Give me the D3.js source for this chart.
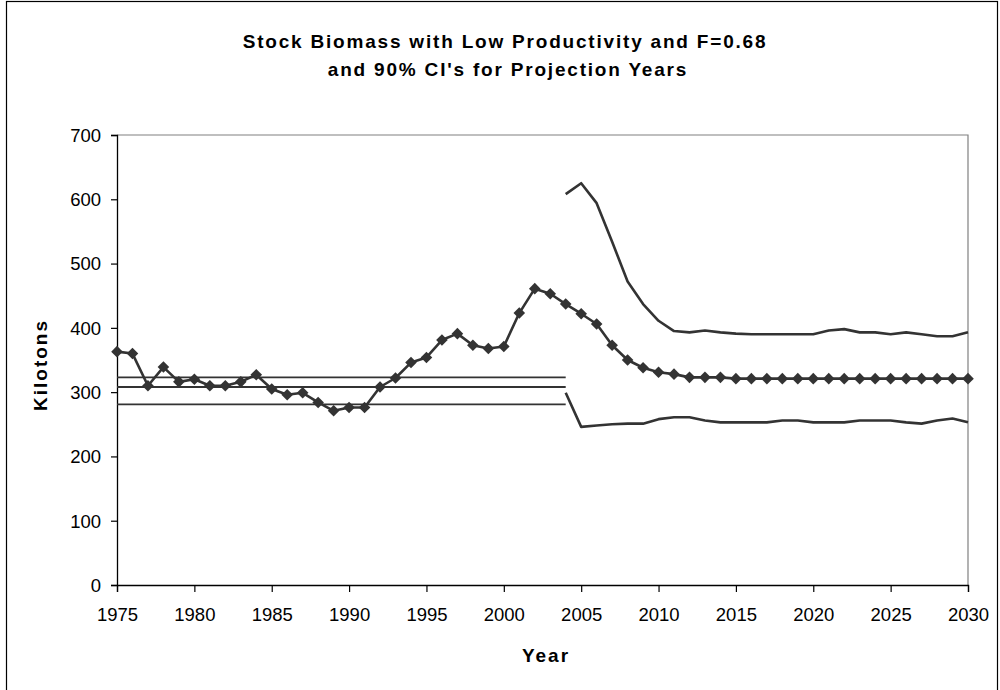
<!DOCTYPE html>
<html>
<head>
<meta charset="utf-8">
<script src="https://cdn.jsdelivr.net/npm/d3@7"></script>
<style>
  html, body { margin: 0; padding: 0; background: #fff; }
  svg { display: block; font-family: Arial, "Liberation Sans", sans-serif; }
</style>
</head>
<body>
<svg id="chart" width="1000" height="690"></svg>
<script>
// Stock biomass, 1975-2030 (projection from 2004)
const years = d3.range(1975, 2031);
const biomass = [
  363, 360, 310, 339, 316, 320, 310, 310, 316, 327,
  305, 296, 299, 284, 271, 276, 276, 308, 322, 346,
  354, 381, 391, 373, 368, 371, 423, 461, 453, 437,
  422, 406, 373, 350, 338, 331, 328, 323, 323, 323,
  321, 321, 321, 321, 321, 321, 321, 321, 321, 321,
  321, 321, 321, 321, 321, 321
];
// 90% confidence bounds for projection years
const ciYears = d3.range(2004, 2031);
const upperCI = [608, 625, 594, 534, 472, 437, 411, 395, 393, 396,
                 393, 391, 390, 390, 390, 390, 390, 396, 398, 393,
                 393, 390, 393, 390, 387, 387, 393];
const lowerCI = [299, 246, 248, 250, 251, 251, 258, 261, 261, 256,
                 253, 253, 253, 253, 256, 256, 253, 253, 253, 256,
                 256, 256, 253, 251, 256, 259, 253];
// Horizontal reference levels over the historical period
const refYears = [1975, 2004];
const refLevels = [323, 308, 281];

const xTicks = d3.range(1975, 2031, 5);
const yTicks = d3.range(0, 701, 100);

const svg = d3.select("#chart");
const ink = "#333333";

// outer frame
svg.append("rect")
  .attr("x", 6.5).attr("y", 1.5).attr("width", 991).attr("height", 700)
  .attr("fill", "none").attr("stroke", "#000").attr("stroke-width", 1.2);

const plot = { left: 117, right: 968, top: 135, bottom: 585 };
const x = d3.scaleLinear().domain([1975, 2030]).range([plot.left, plot.right]);
const y = d3.scaleLinear().domain([0, 700]).range([plot.bottom, plot.top]);

// plot area border (top/right in gray)
svg.append("path")
  .attr("d", `M${plot.left},${plot.top}H${plot.right}V${plot.bottom}`)
  .attr("fill", "none").attr("stroke", "#808080").attr("stroke-width", 1.2);

// axes
const xAxis = svg.append("g")
  .attr("transform", `translate(0,${plot.bottom})`)
  .call(d3.axisBottom(x).tickValues(xTicks).tickFormat(d3.format("d")).tickSizeOuter(0).tickSize(7).tickPadding(16));
const yAxis = svg.append("g")
  .attr("transform", `translate(${plot.left},0)`)
  .call(d3.axisLeft(y).tickValues(yTicks).tickSizeOuter(0).tickSize(6).tickPadding(10));
[xAxis, yAxis].forEach(g => {
  g.selectAll(".domain").attr("stroke", "#000").attr("stroke-width", 1.3);
  g.selectAll(".tick line").attr("stroke", "#000").attr("stroke-width", 1.2);
  g.selectAll(".tick text").attr("fill", "#000").style("font-size", "18.5px")
    .style("font-family", "Arial, 'Liberation Sans', sans-serif");
});
yAxis.selectAll(".tick text").attr("dy", "0.34em");

// reference levels
svg.append("g").selectAll("line").data(refLevels).join("line")
  .attr("x1", x(refYears[0])).attr("x2", x(refYears[1]))
  .attr("y1", d => y(d)).attr("y2", d => y(d))
  .attr("stroke", ink).attr("stroke-width", 1.8);

const line = d3.line().x(d => x(d[0])).y(d => y(d[1]));

// confidence bounds
[upperCI, lowerCI].forEach(vals => {
  svg.append("path")
    .datum(ciYears.map((yr, i) => [yr, vals[i]]))
    .attr("d", line).attr("fill", "none")
    .attr("stroke", ink).attr("stroke-width", 2.6).attr("stroke-linejoin", "round");
});

// biomass series with diamond markers
const pts = years.map((yr, i) => [yr, biomass[i]]);
svg.append("path").datum(pts).attr("d", line).attr("fill", "none")
  .attr("stroke", ink).attr("stroke-width", 2.6).attr("stroke-linejoin", "round");
svg.append("g").selectAll("path").data(pts).join("path")
  .attr("transform", d => `translate(${x(d[0])},${y(d[1])})`)
  .attr("d", "M0,-5.8L5.8,0L0,5.8L-5.8,0Z")
  .attr("fill", ink);

// titles
const title = svg.append("text").attr("text-anchor", "middle")
  .style("font-size", "19px").style("font-weight", "bold").style("letter-spacing", "1.8px");
title.append("tspan").attr("x", 505).attr("y", 48).text("Stock Biomass with Low Productivity and F=0.68");
title.append("tspan").attr("x", 508).attr("y", 76).text("and 90% CI's for Projection Years");

svg.append("text").attr("text-anchor", "middle")
  .attr("transform", `translate(47,365) rotate(-90)`)
  .style("font-size", "19px").style("font-weight", "bold").style("letter-spacing", "2px")
  .text("Kilotons");

svg.append("text").attr("text-anchor", "middle")
  .attr("x", 546).attr("y", 662)
  .style("font-size", "19px").style("font-weight", "bold").style("letter-spacing", "2px")
  .text("Year");
</script>
</body>
</html>
